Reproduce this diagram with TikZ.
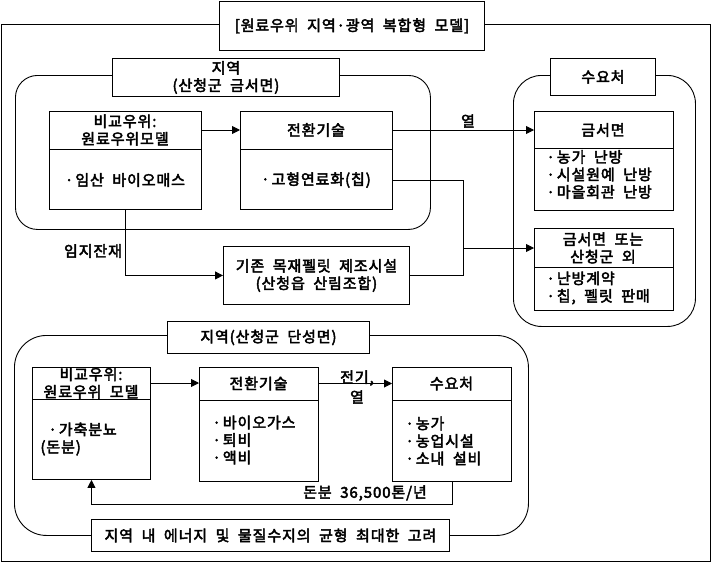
\documentclass[tikz,border=0pt]{standalone}
\usepackage{fontspec}
\setmainfont{Noto Sans CJK KR}[LetterSpace=6,WordSpace=2,FakeBold=3]
\usetikzlibrary{arrows.meta}
\newcommand{\bul}{·\hspace{2pt}}
\begin{document}
\begin{tikzpicture}[x=1pt,y=-1pt,
  font=\fontsize{15}{17.5}\selectfont,
  line width=0.9pt,
  box/.style={draw, fill=white, inner sep=0pt, anchor=north west},
  region/.style={draw, inner sep=0pt, anchor=north west},
  txt/.style={inner sep=0pt, align=center},
  ltxt/.style={inner sep=0pt, align=left, anchor=west},
  arr/.style={-{Triangle[length=8pt,width=8pt]}},
  conn/.style={draw}
]
\useasboundingbox (0,0) rectangle (711,562);
% outer frame
\draw (1,24) rectangle (710,561);
\node[box, minimum width=265, minimum height=49] (title) at (219,1) {};
\node[txt] (titlet) at (title.center) {[원료우위 지역·광역 복합형 모델]};

% ---------- upper left region ----------
\node[region, rounded corners=22pt, minimum width=415, minimum height=154] (reg1) at (15,75) {};
\node[box, minimum width=227, minimum height=38] (l1) at (112,58) {};
\node[txt] (l1t) at (l1.center) {지역\\(산청군 금서면)};

\node[box, minimum width=152, minimum height=98] (a1) at (49,111) {};
\draw (49,149) -- (201,149);
\node[txt] (a1h) at (125,130) {비교우위:\\원료우위모델};
\node[txt] (a1b) at (125,180) {\bul 임산 바이오매스};

\node[box, minimum width=152, minimum height=98] (b1) at (240,111) {};
\draw (240,149) -- (392,149);
\node[txt] (b1h) at (316,130) {전환기술};
\node[txt] (b1b) at (316,180) {\bul 고형연료화(칩)};

% ---------- upper right region ----------
\node[region, rounded corners=28pt, minimum width=182, minimum height=251] (reg2) at (513,75) {};
\node[box, minimum width=105, minimum height=37] (l2) at (550,58) {};
\node[txt] (l2t) at (l2.center) {수요처};

\node[box, minimum width=139, minimum height=99] (c1) at (534,111) {};
\draw (534,148) -- (673,148);
\node[txt] (c1h) at (603,130) {금서면};
\node[ltxt] (c1b) at (546,174.5) {\bul 농가 난방\\\bul 시설원예 난방\\\bul 마을회관 난방};

\node[box, minimum width=139, minimum height=82] (c2) at (534,228) {};
\draw (534,267) -- (673,267);
\node[txt] (c2h) at (603,248) {금서면 또는\\산청군 외};
\node[ltxt] (c2b) at (546,288) {\bul 난방계약\\\bul 칩, 펠릿 판매};

% pellet facility
\node[box, minimum width=186, minimum height=58] (p) at (223,246) {};
\node[txt] (pt) at (p.center) {기존 목재펠릿 제조시설\\(산청읍 산림조합)};

% upper connectors
\draw[arr] (a1h -| a1.east) -- (a1h -| b1.west);
\draw[arr] (b1h -| b1.east) -- (b1h -| c1.west);
\node[txt] (heat1) at (468,121) {열};
\coordinate (j) at (463,248);
\draw (b1b -| b1.east) -| (j);
\draw (p.east) -| (j);
\draw[arr] (j) -- (j -| c2.west);
\draw[arr] (a1.south) |- (p.west);
\node[txt] (resid) at (93,251) {임지잔재};

% ---------- lower region ----------
\node[region, rounded corners=32pt, minimum width=514, minimum height=200] (reg3) at (14,335) {};
\node[box, minimum width=202, minimum height=32] (l3) at (167,321) {};
\node[txt] (l3t) at (l3.center) {지역(산청군 단성면)};
\node[box, minimum width=358, minimum height=32] (l4) at (91,519) {};
\node[txt] (l4t) at (l4.center) {지역 내 에너지 및 물질수지의 균형 최대한 고려};

\node[box, minimum width=118, minimum height=112] (a2) at (32,367) {};
\draw (32,399) -- (150,399);
\node[txt] (a2h) at (91,383) {비교우위:\\원료우위 모델};
\node[ltxt] (a2b) at (40,439) {\hspace*{8pt}\bul 가축분뇨\\(돈분)};

\node[box, minimum width=119, minimum height=114] (b2) at (199,367) {};
\draw (199,400) -- (318,400);
\node[txt] (b2h) at (258.5,383.5) {전환기술};
\node[ltxt] (b2b) at (212,440) {\bul 바이오가스\\\bul 퇴비\\\bul 액비};

\node[box, minimum width=119, minimum height=114] (c3) at (392,367) {};
\draw (392,400) -- (511,400);
\node[txt] (c3h) at (451.5,383.5) {수요처};
\node[ltxt] (c3b) at (405,441) {\bul 농가\\\bul 농업시설\\\bul 소내 설비};

\draw[arr] (a2h -| a2.east) -- (a2h -| b2.west);
\draw[arr] (b2h -| b2.east) -- (b2h -| c3.west);
\node[txt] (elec) at (357,378) {전기,};
\node[txt] (heat2) at (357,397) {열};
\draw[arr] (c3.south) -- ++(0,23) -| (a2.south);
\node[txt] (manure) at (365,493) {돈분 36,500톤/년};
\end{tikzpicture}
\end{document}
